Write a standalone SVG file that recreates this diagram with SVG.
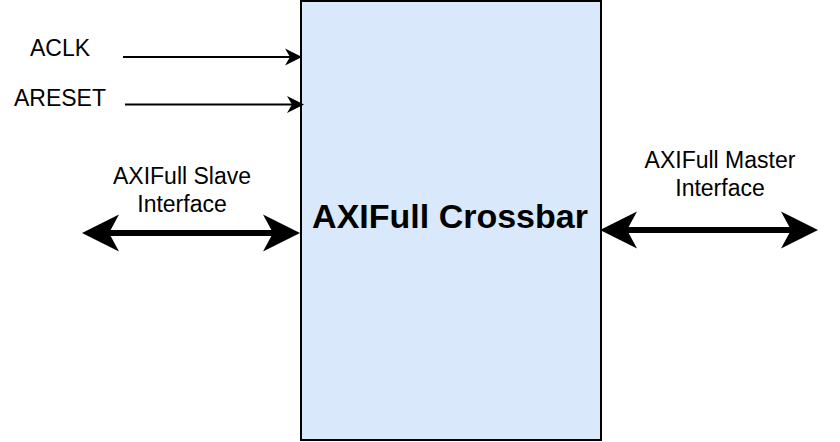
<svg xmlns="http://www.w3.org/2000/svg" width="840" height="442" viewBox="0 0 840 442">
  <style>
    .lbl { font-family: "Liberation Sans", Arial, Helvetica, sans-serif; font-size: 23px; fill: #000; text-anchor: middle; }
    .title { font-family: "Liberation Sans", Arial, Helvetica, sans-serif; font-size: 34px; font-weight: bold; fill: #000; text-anchor: middle; }
    .thin { stroke: #000; stroke-width: 2; fill: none; marker-end: url(#ah); }
    .thick { stroke: #000; stroke-width: 6; fill: none; marker-start: url(#big); marker-end: url(#big); }
  </style>
  <defs>
    <marker id="ah" markerUnits="userSpaceOnUse" markerWidth="20" markerHeight="20" viewBox="-6 -10 20 20" refX="0" refY="0" orient="auto" overflow="visible">
      <path d="M12,0 L-5,-8.5 L0,0 L-5,8.5 Z" fill="#000"/>
    </marker>
    <marker id="big" markerUnits="userSpaceOnUse" markerWidth="40" markerHeight="40" viewBox="-11 -20 40 40" refX="0" refY="0" orient="auto-start-reverse" overflow="visible">
      <path d="M27,0 L-10,-18.5 L0,0 L-10,18.5 Z" fill="#000"/>
    </marker>
  </defs>

  <g id="crossbar">
    <rect x="301" y="1" width="300" height="439" fill="#dae8fc" stroke="#000" stroke-width="2"/>
    <text class="title" x="450" y="228">AXIFull Crossbar</text>
  </g>

  <g id="aclk">
    <text class="lbl" x="60" y="56">ACLK</text>
  </g>
  <g id="areset">
    <text class="lbl" x="60" y="106">ARESET</text>
  </g>
  <g id="slave">
    <text class="lbl" x="182" y="184">AXIFull Slave</text>
    <text class="lbl" x="182" y="212">Interface</text>
  </g>
  <g id="master">
    <text class="lbl" x="720" y="168">AXIFull Master</text>
    <text class="lbl" x="720" y="196">Interface</text>
  </g>

  <g id="connectors">
    <line class="thin" x1="123" y1="57" x2="290" y2="57"/>
    <line class="thin" x1="125" y1="104.5" x2="292" y2="104.5"/>
    <line class="thick" x1="109" y1="233" x2="273" y2="233"/>
    <line class="thick" x1="627" y1="230" x2="791" y2="230"/>
  </g>
</svg>
